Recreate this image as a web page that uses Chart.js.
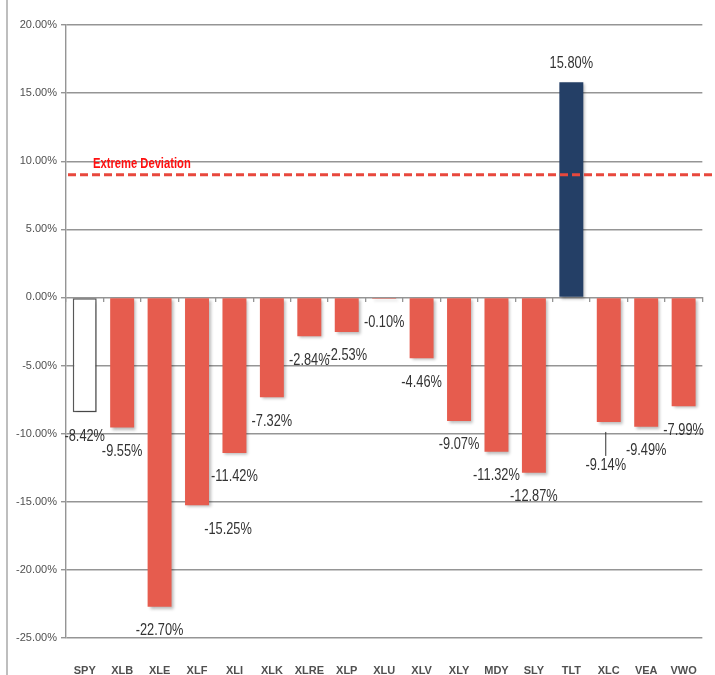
<!DOCTYPE html>
<html>
<head>
<meta charset="utf-8">
<script src="https://cdn.jsdelivr.net/npm/chart.js@4/dist/chart.umd.min.js"></script>
<style>
  html, body { margin: 0; padding: 0; background: #fff; }
  #wrap { position: relative; width: 715px; height: 675px; }
</style>
</head>
<body>
<div id="wrap"><canvas id="chart"></canvas></div>
<script>
// ETF tickers and their % deviation
const categories = ['SPY', 'XLB', 'XLE', 'XLF', 'XLI', 'XLK', 'XLRE', 'XLP', 'XLU',
  'XLV', 'XLY', 'MDY', 'SLY', 'TLT', 'XLC', 'VEA', 'VWO'];
const deviations = [-8.42, -9.55, -22.70, -15.25, -11.42, -7.32, -2.84, -2.53, -0.10,
  -4.46, -9.07, -11.32, -12.87, 15.80, -9.14, -9.49, -7.99];
const yTicks = [-25, -20, -15, -10, -5, 0, 5, 10, 15, 20];
const extremeLevel = 9;
const extremeLabel = 'Extreme Deviation';
const benchmark = 'SPY';

const COLORS = {
  red: '#E65C4E',
  navy: '#243F66',
  white: '#FFFFFF',
  outline: '#595959',
  grid: '#959595',
  text: '#333333',
  axisText: '#505050',
  dash: '#E8483D',
  dashText: '#FF1010'
};

const FONT = "'Liberation Sans', Arial, sans-serif";
// the original uses a condensed face; squeeze our own text to match
const SQUEEZE = 0.8;

// manual label tweaks, like the hand-moved labels of the original
const labelNudge = {
  XLF: { dx: 31, dy: 0 },
  XLC: { dx: -3, dy: 20, leader: true }
};

const barColors = categories.map((c, i) =>
  c === benchmark ? COLORS.white : (deviations[i] > 0 ? COLORS.navy : COLORS.red));
const borderColors = categories.map((c) => c === benchmark ? COLORS.outline : 'rgba(0,0,0,0)');
const borderWidths = categories.map((c) => c === benchmark ? 1.5 : 0);

const fmt = (v) => v.toFixed(2) + '%';

function squeezedText(ctx, text, x, y, align) {
  ctx.save();
  ctx.translate(x, y);
  ctx.scale(SQUEEZE, 1);
  ctx.textAlign = align;
  ctx.fillText(text, 0, 0);
  ctx.restore();
}

// soft shadow behind bars
const barShadow = {
  id: 'barShadow',
  beforeDatasetDraw(chart) {
    const ctx = chart.ctx;
    ctx.save();
    ctx.shadowColor = 'rgba(0,0,0,0.28)';
    ctx.shadowBlur = 3;
    ctx.shadowOffsetX = 2;
    ctx.shadowOffsetY = 2;
  },
  afterDatasetDraw(chart) {
    chart.ctx.restore();
  }
};

// dashed threshold line + value labels
const overlay = {
  id: 'overlay',
  afterDatasetsDraw(chart) {
    const ctx = chart.ctx;
    const area = chart.chartArea;
    const y = chart.scales.y.getPixelForValue(extremeLevel);

    ctx.save();
    ctx.strokeStyle = COLORS.dash;
    ctx.lineWidth = 3;
    ctx.setLineDash([8, 4]);
    ctx.beginPath();
    ctx.moveTo(area.left + 2, y);
    ctx.lineTo(chart.width, y);
    ctx.stroke();
    ctx.setLineDash([]);

    ctx.fillStyle = COLORS.dashText;
    ctx.font = 'bold 14px ' + FONT;
    ctx.textBaseline = 'middle';
    squeezedText(ctx, extremeLabel, area.left + 27, y - 11, 'left');

    ctx.fillStyle = COLORS.text;
    ctx.font = '16px ' + FONT;
    const meta = chart.getDatasetMeta(0);
    meta.data.forEach((bar, i) => {
      const v = deviations[i];
      const n = labelNudge[categories[i]] || { dx: 0, dy: 0 };
      const x = bar.x + n.dx;
      const ly = bar.y + (v < 0 ? 24 : -19) + n.dy;
      if (n.leader) {
        ctx.strokeStyle = COLORS.text;
        ctx.lineWidth = 1;
        ctx.beginPath();
        ctx.moveTo(x, bar.y + 10);
        ctx.lineTo(x, ly - 10);
        ctx.stroke();
      }
      squeezedText(ctx, fmt(v), x, ly, 'center');
    });
    ctx.restore();
  }
};

// thin frame line on the left edge
const frame = {
  id: 'frame',
  beforeDraw(chart) {
    const ctx = chart.ctx;
    ctx.save();
    ctx.strokeStyle = '#A8A8A8';
    ctx.lineWidth = 1.5;
    ctx.beginPath();
    ctx.moveTo(7, 0);
    ctx.lineTo(7, chart.height);
    ctx.stroke();
    ctx.restore();
  }
};

new Chart(document.getElementById('chart'), {
  type: 'bar',
  data: {
    labels: categories,
    datasets: [{
      data: deviations,
      backgroundColor: barColors,
      borderColor: borderColors,
      borderWidth: borderWidths,
      borderSkipped: false,
      barPercentage: 0.64,
      categoryPercentage: 1
    }]
  },
  options: {
    responsive: true,
    maintainAspectRatio: false,
    animation: false,
    layout: { padding: { left: 8, right: 8, top: 25, bottom: 0 } },
    plugins: {
      legend: { display: false },
      tooltip: { enabled: false }
    },
    scales: {
      x: {
        position: 'bottom',
        grid: { display: false },
        border: { display: false },
        ticks: {
          color: COLORS.axisText,
          font: { family: FONT, size: 11, weight: 'bold' },
          padding: 18,
          maxRotation: 0,
          minRotation: 0,
          autoSkip: false
        },
        afterFit(scale) { scale.height = 37; }
      },
      xZero: {
        type: 'category',
        position: { y: 0 },
        grid: {
          display: true,
          drawOnChartArea: false,
          drawTicks: true,
          tickLength: 5,
          color: COLORS.grid,
          lineWidth: 1.3,
          offset: true
        },
        border: { display: false },
        ticks: { display: false }
      },
      y: {
        min: yTicks[0],
        max: yTicks[yTicks.length - 1],
        afterBuildTicks(scale) {
          scale.ticks = yTicks.map((v) => ({ value: v }));
        },
        grid: { color: COLORS.grid, lineWidth: 1.4, tickLength: 5 },
        border: { color: COLORS.grid, width: 1.4 },
        ticks: {
          color: COLORS.axisText,
          font: { family: FONT, size: 11 },
          padding: 4,
          callback: (v) => fmt(v)
        },
        afterFit(scale) { scale.width = 58; }
      }
    }
  },
  plugins: [frame, barShadow, overlay]
});
</script>
</body>
</html>
